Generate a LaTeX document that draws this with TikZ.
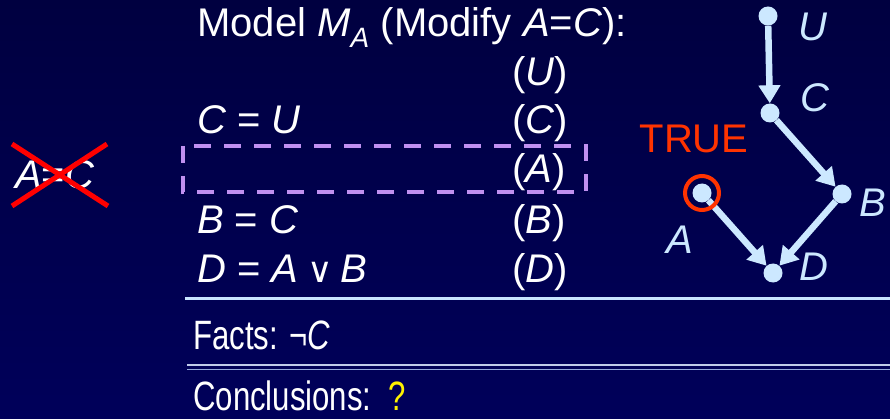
\documentclass[tikz,border=0pt]{standalone}
\usepackage{fontspec}
\setmainfont{Liberation Sans}
\newfontfamily\narrowsans{Liberation Sans}[FakeStretch=0.76]
\newfontfamily\opsfont{DejaVu Sans}
\usetikzlibrary{arrows.meta}

\definecolor{bgtop}{RGB}{0,0,64}
\definecolor{bgbot}{RGB}{0,0,90}
\definecolor{nodeblue}{RGB}{204,232,255}
\definecolor{truered}{RGB}{255,51,0}
\definecolor{boxpurple}{RGB}{192,144,240}
\definecolor{ruleblue}{RGB}{200,228,255}
\definecolor{rulegrey}{RGB}{150,170,220}

\newcommand{\orsign}{{\opsfont\fontsize{35}{36}\selectfont ∨}}

\tikzset{
  txt/.style={anchor=base west, inner sep=0pt, text=white, font=\fontsize{40}{42}\selectfont},
  bigtxt/.style={anchor=base west, inner sep=0pt, text=white, font=\narrowsans\fontsize{41}{44}\selectfont},
  var/.style={circle, fill=nodeblue, inner sep=0pt, minimum size=19pt},
  varlabel/.style={inner sep=0pt, text=nodeblue, font=\fontsize{40}{42}\selectfont\itshape},
  flow/.style={draw=nodeblue, line width=6.5pt, -{Triangle[width=21pt,length=18pt]}},
}

\begin{document}
\begin{tikzpicture}[x=1pt,y=-1pt]
\useasboundingbox (0,0) rectangle (890,419);
\shade[top color=bgtop, bottom color=bgbot] (0,0) rectangle (890,419);

    % Equations of the modified model
    \node[txt] (title) at (197,37) {Model \textit{M}\textsubscript{\textit{A}} (Modify \textit{A}=\textit{C}):};
    \node[txt] (eqC) at (197,134) {\textit{C} = \textit{U}};
    \node[txt] (eqB) at (197,234) {\textit{B} = \textit{C}};
    \node[txt] (eqD) at (197,282) {\textit{D} = \textit{A}\hspace{9pt}\orsign\hspace{8pt}\textit{B}};
    \node[txt] (pU) at (512,86) {(\textit{U})};
    \node[txt] (pC) at (512,134) {(\textit{C})};
    \node[txt] (pA) at (512,183) {(\textit{A})};
    \node[txt] (pB) at (512,234) {(\textit{B})};
    \node[txt] (pD) at (512,282) {(\textit{D})};

    % Removed equation
    \draw[boxpurple, line width=4pt, dash pattern=on 17pt off 13pt] (183,146) rectangle (586,192);
    \node[txt] (oldeq) at (15,189) {\textit{A}=\textit{C}};
    \draw[red, line width=5pt] (12,144) -- (108,206);
    \draw[red, line width=5pt] (12,206) -- (107,144);

    % Rules between parts
    \draw[ruleblue, line width=3pt] (185,298) -- (890,298);
    \draw[rulegrey!60!white, line width=1.6pt] (187,365) -- (890,365);
    \draw[rulegrey, line width=1.6pt] (187,369.5) -- (890,369.5);

    % Facts and conclusions
    \node[bigtxt] (facts) at (193,349) {Facts: ¬\textit{C}};
    \node[bigtxt] (concl) at (193,410) {Conclusions:\ \ \textcolor{yellow}{?}};

    % Causal graph
    \node[var] (nU) at (768,16) {};
    \node[var] (nC) at (770,113) {};
    \node[var] (nA) at (702,193) {};
    \node[var] (nB) at (842,194) {};
    \node[var] (nD) at (773,273) {};
    \draw[flow] (nU) -- (nC);
    \draw[flow] (nC) -- (nB);
    \draw[flow] (nA) -- (nD);
    \draw[flow] (nB) -- (nD);
    \node[varlabel] (lU) at (813,27) {U};
    \node[varlabel] (lC) at (815,98) {C};
    \node[varlabel] (lB) at (873,203) {B};
    \node[varlabel] (lA) at (680,240) {A};
    \node[varlabel] (lD) at (814,267) {D};

    % A is set true
    \draw[truered, line width=4pt] (nA) circle[radius=17pt];
    \node[inner sep=0pt, text=truered, font=\fontsize{40}{42}\selectfont] (true) at (694,139) {TRUE};

\end{tikzpicture}
\end{document}
